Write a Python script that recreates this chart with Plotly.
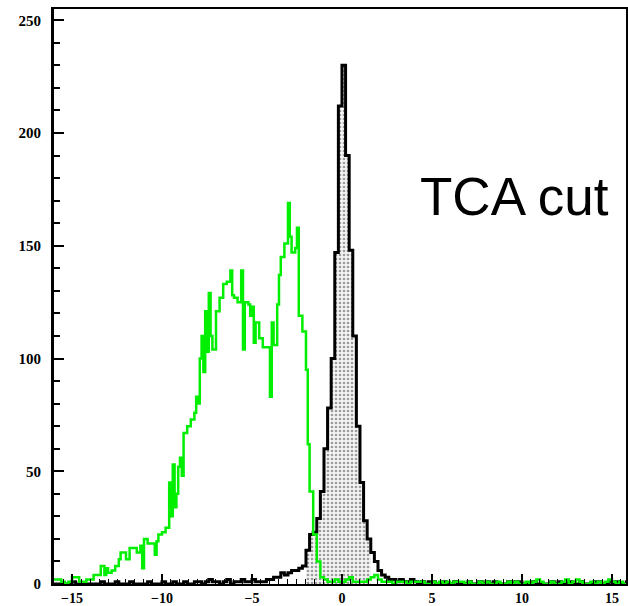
import numpy as np
import plotly.graph_objects as go

# ---------------- data (histogram bin contents) ----------------
X_MIN, X_MAX, NBINS = -16.0, 16.0, 160          # 0.2-wide bins
CUT_LO, CUT_HI = -2.0, 1.6                        # shaded "TCA cut" window

# black histogram (all events)
black_counts = [
    0, 0, 0, 0, 0, 1, 0, 0, 0, 0,
    0, 0, 0, 1, 0, 0, 0, 1, 0, 0,
    0, 1, 0, 0, 0, 0, 1, 0, 0, 0,
    1, 0, 0, 1, 0, 0, 1, 0, 0, 1,
    1, 0, 1, 2, 1, 1, 0, 1, 2, 0,
    1, 1, 2, 1, 1, 2, 1, 1, 1, 2,
    2, 3, 3, 5, 4, 5, 6, 6, 7, 8,
    15, 22, 23, 29, 41, 60, 78, 100, 147, 212,
    230, 190, 148, 110, 70, 45, 28, 20, 14, 10,
    6, 4, 3, 2, 2, 1, 2, 1, 1, 2,
    1, 0, 1, 0, 1, 1, 0, 0, 1, 0,
    0, 1, 0, 0, 0, 1, 0, 0, 1, 0,
    1, 0, 1, 0, 0, 0, 1, 0, 1, 1,
    0, 0, 0, 1, 0, 0, 0, 0, 1, 0,
    1, 0, 0, 1, 0, 0, 1, 0, 0, 0,
    1, 1, 0, 0, 1, 0, 1, 0, 0, 1,
]

# green histogram; a tuple means the bin alternates between two values (two half-bins)
green_counts = [
    2, 2, 1, 0, 1, 3, 3, 1, 1, 2,
    2, 4, 4, 8, (4, 7), 5, 6, 8, (11, 14), 14,
    11, 16, 16, 14, (17, 7), 20, 18, 18, (13, 19), 22,
    23, 25, (45, 30), (53, 34), (40, 52), (56, 48), 67, 70, 73, (76, 83),
    (80, 100), (110, 94), (121, 103), (129, 110), 104, 121, 127, 133, 134, (139, 128),
    127, 125, (139, 104), 125, (124, 119), (123, 107), 116, 109, 105, 105,
    (83, 116), 106, (124, 137), 145, 151, (169, 154), 147, (149, 158), 119, 112,
    (95, 62), 41, 22, 10, 3, 2, 1, 1, 2, 1,
    1, 2, 3, 1, 1, 1, 1, 2, 3, 4,
    2, 1, 1, 1, 0, 1, 1, 1, 0, 1,
    1, 1, 1, 0, 0, 1, 0, 1, 0, 1,
    0, 1, 1, 1, 0, 1, 0, 0, 1, 0,
    1, 0, 0, 1, 0, 0, 1, 0, 1, 0,
    0, 1, 0, 1, 2, 1, 0, 0, 1, 0,
    0, 1, 2, 0, 1, 2, 1, 0, 0, 1,
    0, 1, 0, 1, 2, 1, 0, 1, 0, 0,
]

x_tick_vals = [-15, -10, -5, 0, 5, 10, 15]
y_tick_vals = [0, 50, 100, 150, 200, 250]
label_text = "TCA cut"

# ---------------- helpers ----------------
BW = (X_MAX - X_MIN) / NBINS


def step_xy(counts, lo=None, hi=None):
    xs, ys = [], []
    for i, c in enumerate(counts):
        left = X_MIN + i * BW
        right = left + BW
        if lo is not None and (left < lo - 1e-9 or right > hi + 1e-9):
            continue
        vals = c if isinstance(c, tuple) else (c,)
        for j, v in enumerate(vals):
            xs.append(left + j * BW / len(vals))
            ys.append(v)
    end = hi if hi is not None else X_MAX
    xs.append(end)
    ys.append(ys[-1])
    return xs, ys


bx, by = step_xy(black_counts)
sx, sy = step_xy(black_counts, CUT_LO, CUT_HI)
gx, gy = step_xy(green_counts)

fig = go.Figure()

# shaded (cut) part
fig.add_trace(go.Scatter(
    x=[sx[0]] + sx + [sx[-1]], y=[0] + sy + [0],
    mode="lines", line=dict(width=0, shape="hv", color="black"),
    fill="tozeroy", fillcolor="rgba(0,0,0,0)",
    fillpattern=dict(shape=".", fgcolor="#444444", bgcolor="#f4f4f4", size=4, solidity=0.35),
    hoverinfo="skip", showlegend=False,
))

# black histogram outline
fig.add_trace(go.Scatter(
    x=bx, y=by, mode="lines",
    line=dict(color="black", width=3, shape="hv"),
    showlegend=False, hoverinfo="skip",
))

# green histogram
fig.add_trace(go.Scatter(
    x=gx, y=gy, mode="lines",
    line=dict(color="#00ee00", width=2.5, shape="hv"),
    showlegend=False, hoverinfo="skip",
))

x_tick_font = dict(family="Liberation Serif", size=14, color="black", weight="bold")
y_tick_font = dict(family="Liberation Serif", size=15, color="black", weight="bold")

fig.update_layout(
    width=628, height=606,
    margin=dict(l=54, r=2, t=9, b=22, autoexpand=False),
    paper_bgcolor="white", plot_bgcolor="white",
    showlegend=False,
    xaxis=dict(
        range=[-16, 15.78], tickvals=x_tick_vals,
        ticks="inside", ticklen=10, tickwidth=1.5, tickcolor="black",
        minor=dict(dtick=0.5, ticks="inside", ticklen=5, tickwidth=1, tickcolor="black", showgrid=False),
        showline=True, linecolor="black", linewidth=2, mirror=True,
        showgrid=False, zeroline=False, tickfont=x_tick_font,
        ticklabelstandoff=0, automargin=False,
    ),
    yaxis=dict(
        range=[0, 255], tickvals=y_tick_vals,
        ticks="inside", ticklen=10, tickwidth=2, tickcolor="black",
        minor=dict(dtick=10, ticks="inside", ticklen=6, tickwidth=2, tickcolor="black", showgrid=False),
        showline=True, linecolor="black", linewidth=3, mirror=True,
        showgrid=False, zeroline=False, tickfont=y_tick_font,
        ticklabelstandoff=7, automargin=False,
    ),
    annotations=[dict(
        text=label_text, xref="paper", yref="paper",
        x=0.805, y=0.674, xanchor="center", yanchor="middle",
        showarrow=False,
        font=dict(family="Liberation Sans", size=53, color="black"),
    )],
)

fig.write_html("out.html")
